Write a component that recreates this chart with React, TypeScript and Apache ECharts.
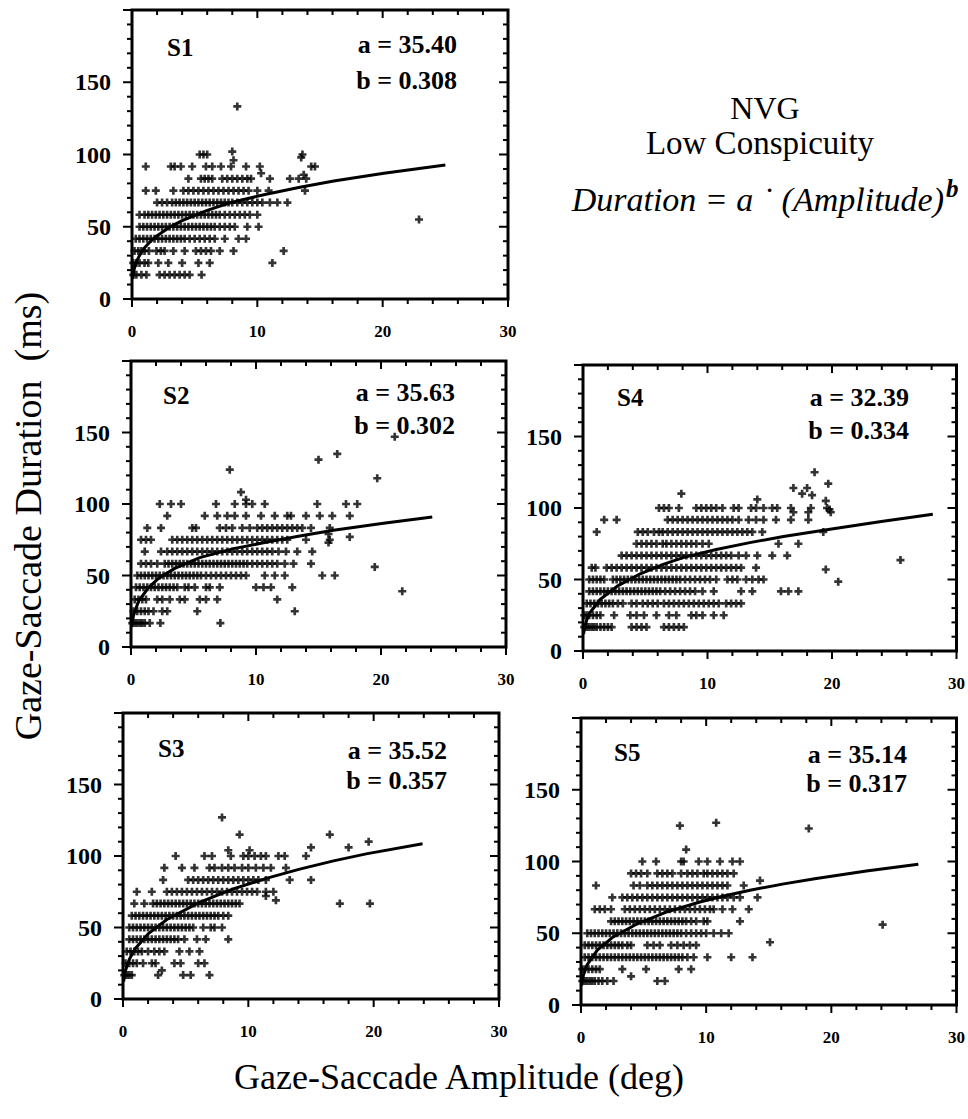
import React, { useEffect, useRef } from "react";
import * as echarts from "echarts";

// ---------- data ----------
const X_TICK_LABELS = [0, 10, 20, 30];
const Y_TICK_LABELS = [0, 50, 100, 150];

const PANEL_NAMES = ["S1", "S2", "S3", "S4", "S5"];
const PARAM_A = ["35.40", "35.63", "35.52", "32.39", "35.14"];
const PARAM_B = ["0.308", "0.302", "0.357", "0.334", "0.317"];

type Row = [number, number[]];
type Pt = [number, number];

// rows: [duration (ms), amplitudes (deg) of the points on that row]
const S1_ROWS: Row[] = [
  [16.7, [0.1, 0.35, 0.75, 1.15, 2.2, 2.6, 3.0, 3.4, 3.8, 4.2, 4.6, 5.55]],
  [25, [0.1, 0.35, 0.6, 1.0, 1.3, 2.1, 2.9, 4.0, 5.3, 6.2, 11.2]],
  [33.3, [0.2, 0.5, 0.75, 1.0, 1.35, 1.95, 2.3, 2.6, 3.3, 4.2, 5.1, 5.5, 5.9, 6.3, 7.0, 8.1, 12.1]],
  [41.7, [0.3, 0.6, 0.9, 1.2, 1.5, 1.8, 2.1, 2.4, 2.7, 3.0, 3.3, 3.6, 3.9, 4.2, 4.6, 5.0, 5.4, 5.8, 6.2, 6.6, 7.4, 8.5, 9.1]],
  [50, [0.6, 0.9, 1.2, 1.5, 1.8, 2.1, 2.4, 2.7, 3.0, 3.3, 3.6, 3.9, 4.2, 4.5, 4.8, 5.1, 5.4, 5.7, 6.0, 6.3, 6.6, 7.0, 7.4, 7.8, 8.2, 9.2, 10.1]],
  [58.3, [0.6, 1.0, 1.3, 1.6, 1.9, 2.2, 2.5, 2.8, 3.1, 3.4, 3.7, 4.0, 4.3, 4.6, 4.9, 5.2, 5.5, 5.8, 6.1, 6.4, 6.7, 7.0, 7.4, 7.8, 8.2, 8.6, 9.0, 9.4, 10.0]],
  [66.7, [2.0, 2.4, 2.8, 3.2, 3.5, 3.8, 4.1, 4.4, 4.7, 5.0, 5.3, 5.6, 5.9, 6.2, 6.5, 6.8, 7.1, 7.4, 7.7, 8.0, 8.4, 8.8, 9.2, 9.6, 10.0, 10.4, 11.0, 11.6, 12.4]],
  [75, [1.1, 1.9, 3.3, 4.1, 4.5, 4.9, 5.3, 5.7, 6.1, 6.5, 6.9, 7.3, 7.7, 8.1, 8.5, 8.9, 9.3, 10.0, 10.9, 13.8]],
  [83.3, [4.5, 5.5, 5.8, 6.1, 6.4, 7.2, 7.6, 8.0, 8.4, 8.8, 9.2, 9.5, 11.0, 12.6, 13.3, 13.9]],
  [91.7, [1.1, 3.1, 3.4, 3.9, 4.8, 5.9, 6.4, 7.1, 7.9, 9.1, 10.2, 14.3, 14.6]],
  [100, [5.4, 5.7, 6.0, 13.6]],
  [133.3, [8.4]],
];
const S1_EXTRA: Pt[] = [[8.0, 102], [8.1, 96], [22.9, 55], [10.3, 87], [13.7, 86], [13.5, 98]];
const S1_CURVE: Pt[] = [
  [0.05, 14], [0.1, 17.4], [0.2, 21.6], [0.4, 26.7], [0.7, 31.7], [1, 35.4], [1.5, 40.1], [2, 43.8],
  [3, 49.7], [4, 54.2], [6, 61.3], [8, 67], [10.7, 72.5], [13.4, 77.3], [16.1, 81.6], [20.1, 87], [25, 92.7],
];

const S2_ROWS: Row[] = [
  [16.7, [0.1, 0.3, 0.5, 0.7, 0.9, 1.1, 1.5, 2.35, 7.15]],
  [25, [0.2, 0.5, 0.8, 1.1, 1.4, 1.8, 2.5, 2.9, 5.3, 13.1]],
  [33.3, [0.3, 0.6, 0.9, 1.2, 2.1, 2.5, 3.1, 3.9, 4.3, 5.5, 6.0, 6.9, 11.7]],
  [41.7, [0.4, 0.7, 1.0, 1.3, 1.6, 1.9, 2.2, 2.5, 2.8, 3.1, 3.4, 3.7, 4.3, 4.6, 5.1, 6.0, 6.3, 7.1, 10.0, 10.6, 11.2, 12.9]],
  [50, [0.5, 0.8, 1.1, 1.4, 1.7, 2.0, 2.3, 2.6, 2.9, 3.2, 3.5, 3.8, 4.1, 4.4, 4.7, 5.0, 5.3, 5.6, 6.0, 6.4, 6.8, 7.2, 7.6, 8.0, 8.4, 8.8, 9.2, 10.7, 11.5, 12.3, 15.3, 16.3]],
  [58.3, [0.8, 1.2, 1.6, 2.1, 2.7, 3.0, 3.3, 3.6, 3.9, 4.2, 4.5, 4.8, 5.1, 5.4, 5.7, 6.0, 6.3, 6.6, 6.9, 7.2, 7.5, 7.8, 8.1, 8.4, 8.7, 9.0, 9.3, 9.7, 10.1, 10.5, 10.9, 11.3, 11.7, 12.3, 13.0, 14.4]],
  [66.7, [1.1, 2.4, 2.9, 3.3, 3.7, 4.1, 4.5, 4.9, 5.3, 5.7, 6.1, 6.5, 6.9, 7.3, 7.7, 8.1, 8.5, 8.9, 9.3, 9.7, 10.1, 10.5, 10.9, 11.3, 11.8, 12.4, 13.3, 14.5]],
  [75, [0.8, 1.2, 1.6, 3.3, 3.7, 4.1, 4.5, 4.9, 5.3, 5.7, 6.1, 6.5, 6.9, 7.3, 7.7, 8.1, 8.5, 8.9, 9.3, 9.7, 10.1, 10.5, 10.9, 11.3, 11.7, 12.1, 12.5, 14.0, 15.9]],
  [83.3, [1.3, 2.4, 4.9, 5.2, 7.1, 7.6, 8.1, 8.9, 9.5, 10.1, 10.5, 10.9, 11.3, 11.7, 12.1, 12.5, 12.9, 13.3, 13.7, 14.4, 15.9]],
  [91.7, [2.9, 5.9, 6.9, 7.7, 8.3, 9.2, 10.4, 11.5, 12.5, 12.8, 14.0, 15.1, 16.1, 17.5]],
  [100, [2.3, 3.2, 4.0, 6.8, 8.3, 9.2, 9.7, 10.7, 14.9, 17.2, 18.1]],
  [108.3, [8.8]],
];
const S2_EXTRA: Pt[] = [[9.2, 103], [7.9, 124], [15.0, 131], [16.5, 135], [19.7, 118], [21.1, 147], [19.5, 56], [21.7, 39], [17.5, 77], [15.8, 79], [15.8, 73]];
const S2_CURVE: Pt[] = [
  [0.05, 14], [0.2, 22], [0.6, 32], [1.4, 41.5], [2.2, 48], [3.5, 55], [5.5, 62.5], [8.2, 68.8],
  [10.9, 73.4], [13.5, 77.6], [16.2, 81.7], [20.2, 86.6], [24.1, 90.9],
];

const S3_ROWS: Row[] = [
  [16.7, [0.1, 0.3, 0.5, 0.7, 2.8, 4.8, 5.4, 6.9]],
  [25, [0.2, 0.5, 0.8, 1.1, 1.6, 2.3, 2.6, 4.1, 4.6, 6.0, 6.5]],
  [33.3, [0.3, 0.6, 0.9, 1.2, 1.5, 2.0, 2.5, 2.9, 3.3, 4.5, 5.3, 6.1]],
  [41.7, [0.5, 0.8, 1.1, 1.4, 1.7, 2.0, 2.3, 2.6, 2.9, 3.2, 3.5, 3.8, 4.1, 4.4, 4.9, 5.9, 6.6, 8.4]],
  [50, [0.5, 0.8, 1.1, 1.4, 1.7, 2.0, 2.3, 2.6, 2.9, 3.2, 3.5, 3.8, 4.1, 4.4, 4.7, 5.0, 5.3, 5.6, 6.4, 7.0, 7.3, 7.9]],
  [58.3, [0.7, 1.0, 1.3, 1.6, 1.9, 2.2, 2.5, 2.8, 3.1, 3.4, 3.7, 4.0, 4.3, 4.6, 4.9, 5.2, 5.5, 5.8, 6.1, 6.4, 6.7, 7.0, 7.3, 7.6, 8.0, 8.4]],
  [66.7, [0.9, 1.7, 2.4, 2.7, 3.0, 3.3, 3.6, 3.9, 4.2, 4.5, 4.8, 5.1, 5.4, 5.7, 6.0, 6.3, 6.6, 6.9, 7.2, 7.5, 7.8, 8.1, 8.4, 8.7, 9.0, 9.3, 17.3, 19.7]],
  [75, [1.1, 2.3, 3.5, 3.9, 4.3, 4.7, 5.1, 5.5, 5.9, 6.3, 6.7, 7.1, 7.5, 7.9, 8.3, 8.7, 9.1, 9.5, 9.9, 10.3, 10.7, 11.4, 12.0]],
  [83.3, [3.2, 5.2, 5.6, 6.0, 6.4, 6.8, 7.2, 7.6, 8.0, 8.4, 8.8, 9.2, 9.6, 10.0, 10.4, 10.8, 11.4, 13.3, 15.0]],
  [91.7, [3.3, 4.7, 5.7, 6.9, 7.3, 7.9, 8.4, 8.9, 9.5, 10.0, 10.6, 11.2, 11.8, 13.0]],
  [100, [4.2, 6.5, 7.1, 8.6, 9.6, 10.0, 10.5, 11.0, 11.4, 12.4, 12.9, 14.6]],
];
const S3_EXTRA: Pt[] = [[3.1, 20], [12.2, 69], [11.4, 72], [8.4, 104], [10.1, 104], [15.0, 106], [7.9, 127], [9.3, 115], [16.5, 115], [18.0, 106], [19.6, 110]];
const S3_CURVE: Pt[] = [
  [0.05, 12.2], [0.2, 20], [0.5, 27.7], [1, 35.5], [2, 45.5], [3.5, 55.6], [6.1, 67.6], [8.8, 77],
  [11.5, 84.5], [14.1, 90.8], [16.8, 96.6], [19.4, 101.5], [23.9, 108.6],
];

const S4_ROWS: Row[] = [
  [16.7, [0.1, 0.3, 0.5, 0.7, 0.9, 1.1, 1.4, 1.7, 2.0, 2.3, 3.9, 4.3, 4.7, 5.1, 6.5, 6.9, 7.3, 7.7, 8.1]],
  [25, [0.1, 0.3, 0.5, 0.8, 1.1, 1.4, 2.5, 3.8, 4.3, 4.9, 5.9, 6.9, 7.5, 8.7, 9.1, 9.6, 10.5, 11.3]],
  [33.3, [0.3, 0.6, 0.9, 1.2, 1.5, 1.8, 2.1, 2.4, 2.8, 3.2, 3.9, 4.3, 4.8, 5.2, 5.6, 6.0, 6.5, 6.9, 7.3, 7.7, 8.1, 8.5, 8.9, 9.3, 9.7, 10.1, 10.5, 10.9, 11.5, 11.9, 12.3, 12.7]],
  [41.7, [0.5, 0.8, 1.1, 1.4, 1.7, 2.0, 2.3, 2.6, 2.9, 3.2, 3.5, 3.8, 4.1, 4.4, 4.7, 5.0, 5.3, 5.6, 5.9, 6.2, 6.6, 7.0, 7.4, 7.8, 8.2, 8.6, 9.0, 9.6, 10.5, 12.7, 13.6, 15.9, 16.5, 17.3]],
  [50, [0.5, 0.8, 1.1, 1.4, 1.7, 2.4, 2.7, 3.0, 3.3, 3.6, 3.9, 4.2, 4.5, 4.8, 5.1, 5.4, 5.7, 6.0, 6.3, 6.6, 6.9, 7.2, 7.5, 7.8, 8.2, 8.6, 9.0, 9.4, 9.8, 10.2, 10.7, 11.6, 12.0, 12.4, 13.1, 13.6, 14.1, 14.5]],
  [58.3, [0.7, 1.0, 1.9, 2.3, 2.7, 3.1, 3.5, 3.9, 4.3, 4.7, 5.1, 5.5, 5.9, 6.3, 6.7, 7.1, 7.5, 7.9, 8.3, 8.7, 9.1, 9.5, 9.9, 10.3, 10.7, 11.1, 11.5, 11.9, 12.3, 12.7, 13.9]],
  [66.7, [3.1, 3.5, 3.9, 4.3, 4.7, 5.1, 5.5, 5.9, 6.3, 6.7, 7.1, 7.5, 7.9, 8.3, 8.7, 9.1, 9.5, 9.9, 10.3, 10.7, 11.1, 11.5, 11.9, 12.5, 13.1, 14.0, 15.2, 16.4]],
  [75, [4.3, 4.7, 5.1, 5.5, 5.9, 6.4, 6.7, 7.1, 7.5, 7.9, 8.3, 8.7, 9.1, 9.6, 10.1, 15.7, 17.3]],
  [83.3, [1.1, 4.4, 4.8, 5.2, 5.7, 6.1, 6.4, 6.8, 7.2, 7.6, 8.0, 8.4, 8.8, 9.2, 9.6, 10.0, 10.4, 10.8, 11.2, 11.6, 12.0, 12.4, 12.8, 13.2, 13.6, 14.4, 19.3]],
  [91.7, [1.7, 2.7, 6.8, 7.2, 7.6, 8.0, 8.4, 8.8, 9.2, 9.6, 10.0, 10.4, 10.8, 11.2, 11.6, 12.0, 12.5, 13.3, 13.9, 14.5, 15.5, 16.7, 18.1]],
  [100, [6.1, 6.5, 6.9, 7.7, 9.1, 9.5, 9.9, 10.3, 10.7, 11.2, 12.1, 12.5, 13.5, 13.9, 14.5, 15.2, 15.6, 16.7, 18.3, 19.6]],
];
const S4_EXTRA: Pt[] = [
  [7.9, 110], [14.0, 106], [16.9, 114], [17.6, 110], [18.0, 114], [18.4, 109], [18.6, 125], [19.7, 117],
  [19.5, 105], [19.8, 99], [19.9, 97], [18.1, 97], [16.9, 97], [19.5, 57], [20.5, 48.5], [25.5, 63.6],
];
const S4_CURVE: Pt[] = [
  [0.05, 11.9], [0.1, 15], [0.3, 21.7], [0.6, 27.3], [1.4, 36.2], [2.75, 45.4], [4.6, 54], [6.5, 60.8],
  [8.1, 65.5], [10.7, 71], [13.4, 75.8], [16.1, 80], [20.1, 85.5], [24.1, 90.7], [28.1, 95.6],
];

const S5_ROWS: Row[] = [
  [16.7, [0.1, 0.3, 0.5, 0.7, 0.9, 1.1, 1.4, 1.7, 2.1, 2.6, 6.1, 6.7]],
  [25, [0.1, 0.3, 0.6, 0.9, 1.2, 1.5, 3.3, 5.2, 7.8, 8.8]],
  [33.3, [0.3, 0.6, 0.9, 1.2, 1.5, 1.8, 2.1, 2.4, 2.7, 3.0, 3.3, 3.6, 3.9, 4.2, 4.5, 4.8, 5.1, 5.4, 5.7, 6.0, 6.3, 6.6, 6.9, 7.2, 7.5, 7.8, 8.1, 8.5, 9.0, 10.1, 12.0, 13.7]],
  [41.7, [0.3, 0.6, 0.9, 1.2, 1.5, 1.8, 2.1, 2.4, 2.7, 3.0, 3.3, 3.7, 4.0, 5.3, 5.8, 6.3, 7.2, 7.7, 8.2, 8.7, 9.2]],
  [50, [0.5, 0.8, 1.1, 1.4, 1.7, 2.0, 2.3, 2.6, 2.9, 3.2, 3.5, 3.8, 4.1, 4.4, 4.7, 5.0, 5.3, 5.6, 5.9, 6.2, 6.5, 6.8, 7.1, 7.4, 7.7, 8.0, 8.4, 8.8, 9.2, 9.6, 10.0, 10.6, 11.2, 11.8]],
  [58.3, [2.4, 2.7, 3.0, 3.3, 3.6, 3.9, 4.2, 4.5, 4.8, 5.1, 5.4, 5.7, 6.0, 6.3, 6.6, 6.9, 7.2, 7.5, 7.8, 8.1, 8.4, 8.8, 9.2, 9.8, 10.1, 12.7]],
  [66.7, [1.1, 1.5, 1.9, 2.4, 3.5, 3.9, 4.3, 4.7, 5.1, 5.5, 5.9, 6.3, 6.7, 7.1, 7.5, 7.9, 8.3, 8.7, 9.1, 9.5, 9.9, 10.3, 10.6, 11.3, 12.1, 13.4]],
  [75, [2.5, 3.3, 3.7, 4.1, 4.5, 4.9, 5.3, 5.7, 6.1, 6.5, 6.9, 7.3, 7.7, 8.1, 8.5, 8.9, 9.3, 9.7, 10.1, 10.5, 10.9, 11.3, 11.7, 12.2, 12.7, 14.1]],
  [83.3, [1.2, 4.2, 4.7, 5.3, 5.7, 6.1, 6.5, 6.9, 7.3, 7.7, 8.1, 8.5, 8.9, 9.3, 9.7, 10.1, 10.5, 10.9, 11.3, 11.7, 13.0]],
  [91.7, [4.0, 4.4, 4.8, 5.3, 6.1, 6.5, 6.9, 7.3, 8.0, 8.5, 8.9, 9.3, 9.8, 10.1, 10.5, 10.9, 11.3, 11.7, 12.2]],
  [100, [4.9, 6.0, 8.0, 8.2, 9.4, 10.1, 11.1, 12.1, 12.7]],
  [108.3, [8.4]],
];
const S5_EXTRA: Pt[] = [[4.0, 20], [15.1, 43.7], [14.3, 86.7], [7.9, 125], [10.8, 127], [18.2, 123], [24.1, 56]];
const S5_CURVE: Pt[] = [
  [0.05, 13.6], [0.2, 21.1], [0.5, 28.2], [1.3, 38.2], [2.5, 47], [4.5, 56.6], [6.9, 65], [9.5, 71.8],
  [11.4, 76], [13.5, 80], [16.2, 84.4], [18.8, 88.2], [22.8, 93.4], [26.95, 98.1],
];

const ALL_ROWS = [S1_ROWS, S2_ROWS, S3_ROWS, S4_ROWS, S5_ROWS];
const ALL_EXTRA = [S1_EXTRA, S2_EXTRA, S3_EXTRA, S4_EXTRA, S5_EXTRA];
const ALL_CURVES = [S1_CURVE, S2_CURVE, S3_CURVE, S4_CURVE, S5_CURVE];

// ---------- layout (pixels) ----------
const LAYOUT = [
  { left: 132, top: 10, right: 508, bottom: 299, lab: [35, 37], a: [51, 34], b: [51, 70] },
  { left: 131, top: 361, right: 506, bottom: 647, lab: [32, 34], a: [51, 31], b: [51, 64] },
  { left: 123, top: 713, right: 499, bottom: 999, lab: [35, 35], a: [52, 37], b: [52, 67] },
  { left: 583, top: 365, right: 958, bottom: 651, lab: [34, 32], a: [49, 32], b: [49, 65] },
  { left: 581, top: 718, right: 957, bottom: 1005, lab: [33, 34], a: [50, 36], b: [50, 65] },
];

const X_MAX = 30;
const Y_MAX = 200;
const X_MAJOR_STEP = 10;
const X_MINOR_STEP = 2;
const Y_MAJOR_STEP = 50;
const Y_MINOR_STEP = 10;

const SERIF = '"Liberation Serif", "Times New Roman", serif';
const PLUS = "path://M3,0H6V3H9V6H6V9H3V6H0V3H3Z";

function buildPoints(rows: Row[], extra: Pt[]): Pt[] {
  const pts: Pt[] = [];
  rows.forEach(([d, xs]) => xs.forEach((x) => pts.push([x, d])));
  extra.forEach((p) => pts.push(p));
  return pts;
}

function textEl(text: string, x: number, y: number, font: string, align: string, vAlign = "middle", rotation = 0) {
  return {
    type: "text",
    x,
    y,
    rotation,
    silent: true,
    style: { text, x: 0, y: 0, font, fill: "#000", align, textAlign: align, verticalAlign: vAlign, textVerticalAlign: vAlign },
  };
}

// frame + tick marks, positioned through the axes' own scale (api.coord)
function renderFrame(params: any, api: any) {
  const cs = params.coordSys;
  const x0 = cs.x;
  const y0 = cs.y;
  const x1 = cs.x + cs.width;
  const y1 = cs.y + cs.height;
  const children: any[] = [];
  const tick = (ax: number, ay: number, bx: number, by: number) =>
    children.push({ type: "line", shape: { x1: ax, y1: ay, x2: bx, y2: by }, style: { stroke: "#000", lineWidth: 2 } });
  for (let v = 0; v <= X_MAX; v += X_MINOR_STEP) {
    const px = api.coord([v, 0])[0];
    const len = v % X_MAJOR_STEP === 0 ? 8 : 5;
    tick(px, y1, px, y1 + len);
    tick(px, y0, px, y0 + len);
  }
  for (let v = 0; v <= Y_MAX; v += Y_MINOR_STEP) {
    const py = api.coord([0, v])[1];
    const len = v % Y_MAJOR_STEP === 0 ? 9 : 5;
    tick(x0 - len, py, x0, py);
    tick(x1 - len, py, x1, py);
  }
  children.push({
    type: "rect",
    shape: { x: x0, y: y0, width: x1 - x0, height: y1 - y0 },
    style: { fill: "none", stroke: "#000", lineWidth: 3 },
  });
  return { type: "group", children };
}

export default function App() {
  const ref = useRef<HTMLDivElement>(null);

  useEffect(() => {
    if (!ref.current) return;
    const chart = echarts.init(ref.current, undefined, { renderer: "svg" });

    const grids: any[] = [];
    const xAxes: any[] = [];
    const yAxes: any[] = [];
    const series: any[] = [];
    const graphics: any[] = [];

    LAYOUT.forEach((l, i) => {
      grids.push({ left: l.left, top: l.top, width: l.right - l.left, height: l.bottom - l.top, show: false });
      xAxes.push({
        gridIndex: i,
        type: "value",
        min: X_TICK_LABELS[0],
        max: X_MAX,
        interval: X_MAJOR_STEP,
        splitLine: { show: false },
        axisLine: { show: false },
        axisTick: { show: false },
        axisLabel: { show: true, margin: 24, color: "#000", fontFamily: SERIF, fontWeight: "bold", fontSize: 17 },
      });
      yAxes.push({
        gridIndex: i,
        type: "value",
        min: 0,
        max: Y_MAX,
        interval: Y_MAJOR_STEP,
        splitLine: { show: false },
        axisLine: { show: false },
        axisTick: { show: false },
        axisLabel: {
          show: true,
          margin: 21,
          color: "#000",
          fontFamily: SERIF,
          fontWeight: "bold",
          fontSize: 24,
          formatter: (v: number) => (Y_TICK_LABELS.indexOf(v) >= 0 ? String(v) : ""),
        },
      });

      series.push({
        type: "custom",
        xAxisIndex: i,
        yAxisIndex: i,
        data: [[0, 0]],
        renderItem: renderFrame,
        silent: true,
        clip: false,
        z: 1,
      });
      series.push({
        type: "scatter",
        xAxisIndex: i,
        yAxisIndex: i,
        data: buildPoints(ALL_ROWS[i], ALL_EXTRA[i]),
        symbol: PLUS,
        symbolSize: 8,
        itemStyle: { color: "#000" },
        silent: true,
        z: 2,
      });
      series.push({
        type: "line",
        xAxisIndex: i,
        yAxisIndex: i,
        data: ALL_CURVES[i],
        showSymbol: false,
        symbol: "none",
        smooth: false,
        clip: false,
        lineStyle: { color: "#000", width: 3 },
        silent: true,
        z: 3,
      });

      graphics.push(textEl(PANEL_NAMES[i], l.left + l.lab[0], l.top + l.lab[1], `bold 25px ${SERIF}`, "left"));
      graphics.push(textEl(`a = ${PARAM_A[i]}`, l.right - l.a[0], l.top + l.a[1], `bold 26px ${SERIF}`, "right"));
      graphics.push(textEl(`b = ${PARAM_B[i]}`, l.right - l.b[0], l.top + l.b[1], `bold 26px ${SERIF}`, "right"));
    });

    graphics.push(textEl("NVG", 765, 108, `32px ${SERIF}`, "center"));
    graphics.push(textEl("Low Conspicuity", 760, 143, `33px ${SERIF}`, "center"));
    graphics.push(textEl("Duration = a \u02D9 (Amplitude)", 944, 199, `italic 34px ${SERIF}`, "right"));
    graphics.push(textEl("b", 946, 188, `bold italic 25px ${SERIF}`, "left"));
    graphics.push(textEl("Gaze-Saccade Duration\u00A0 (ms)", 28, 516, `38px ${SERIF}`, "center", "middle", Math.PI / 2));
    graphics.push(textEl("Gaze-Saccade Amplitude (deg)", 459, 1077, `36px ${SERIF}`, "center"));

    chart.setOption({
      animation: false,
      backgroundColor: "#fff",
      grid: grids,
      xAxis: xAxes,
      yAxis: yAxes,
      series,
      graphic: { elements: graphics },
    });

    return () => chart.dispose();
  }, []);

  return <div ref={ref} style={{ position: "absolute", left: 0, top: 0, width: 968, height: 1119 }} />;
}
